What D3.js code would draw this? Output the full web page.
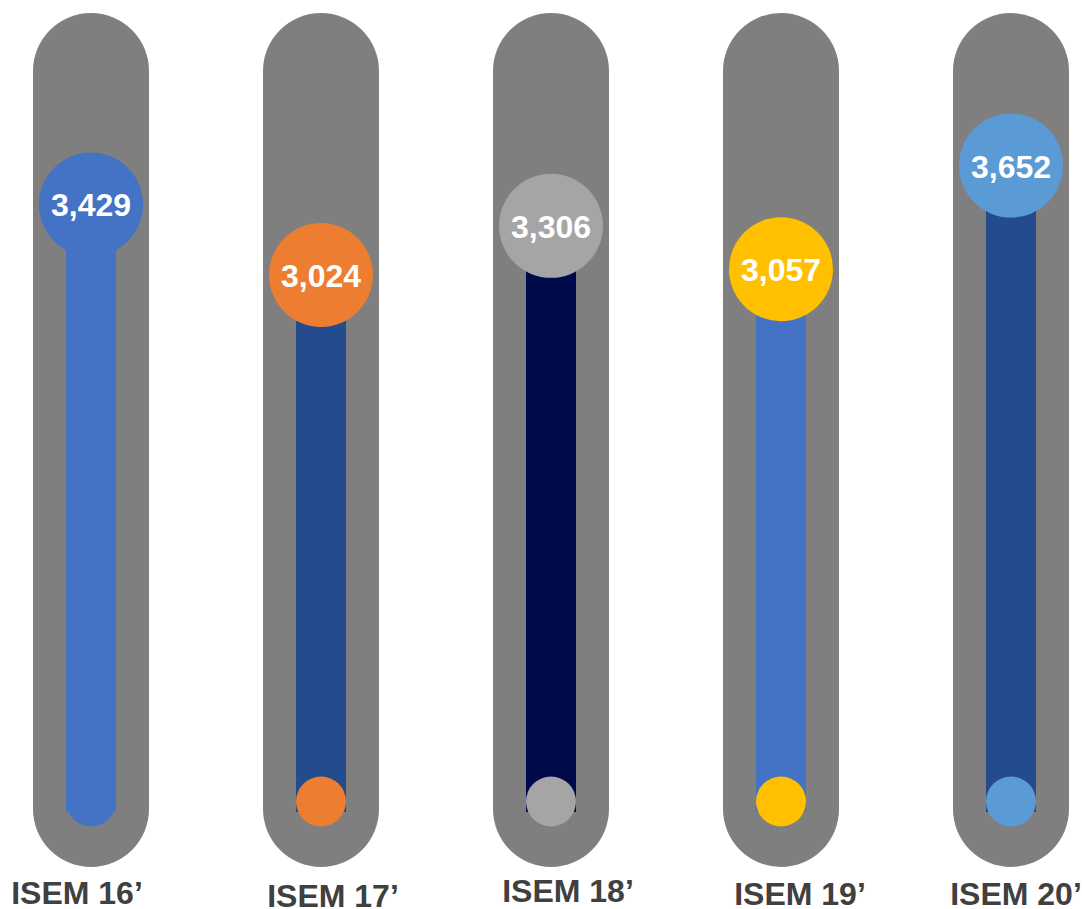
<!DOCTYPE html>
<html>
<head>
<meta charset="utf-8">
<script src="https://cdn.jsdelivr.net/npm/d3@7"></script>
<style>
  html, body { margin: 0; padding: 0; background: #ffffff; }
  svg { display: block; }
</style>
</head>
<body>
<svg id="chart" width="1082" height="909"></svg>
<script>
// ---- data ----
const categories = ["ISEM 16’", "ISEM 17’", "ISEM 18’", "ISEM 19’", "ISEM 20’"];
const values = [3429, 3024, 3306, 3057, 3652];
const valueLabels = ["3,429", "3,024", "3,306", "3,057", "3,652"];

// ---- styles ----
const barColors = ["#4472C4", "#234B8E", "#000A4B", "#4472C4", "#234B8E"];
const dotColors = ["#4472C4", "#ED7D31", "#A5A5A5", "#FFC000", "#5B9BD5"];
const labelDx = [-14, 12, 17, 19, 5];
const labelY = [904, 907, 902, 905, 905];

const svg = d3.select("#chart");

const x = d3.scalePoint().domain(categories).range([91, 1011]);
const y = d3.scaleLinear().domain([0, 4000]).range([801.5, 105]);

const tubeW = 116, tubeTop = 13, tubeBottom = 867;
const barW = 50, barBottom = 812;
const bigR = 52, smallR = 25;

const rows = categories.map((c, i) => ({ c, v: values[i], lab: valueLabels[i], i }));

const g = svg.append("g").selectAll("g").data(rows).join("g");

// background tubes
g.append("rect")
  .attr("x", d => x(d.c) - tubeW / 2)
  .attr("y", tubeTop)
  .attr("width", tubeW)
  .attr("height", tubeBottom - tubeTop)
  .attr("rx", tubeW / 2)
  .attr("fill", "#7F7F7F");

// value bars
g.append("rect")
  .attr("x", d => x(d.c) - barW / 2)
  .attr("y", d => y(d.v))
  .attr("width", barW)
  .attr("height", d => barBottom - y(d.v))
  .attr("fill", d => barColors[d.i]);

// bottom bulbs
g.append("circle")
  .attr("cx", d => x(d.c))
  .attr("cy", y(0))
  .attr("r", smallR)
  .attr("fill", d => dotColors[d.i]);

// value circles
g.append("circle")
  .attr("cx", d => x(d.c))
  .attr("cy", d => y(d.v))
  .attr("r", bigR)
  .attr("fill", d => dotColors[d.i]);

// value labels
g.append("text")
  .attr("x", d => x(d.c))
  .attr("y", d => y(d.v) + 12)
  .attr("text-anchor", "middle")
  .attr("font-family", "'Liberation Sans', Arial, sans-serif")
  .attr("font-weight", "bold")
  .attr("font-size", 32)
  .attr("fill", "#ffffff")
  .text(d => d.lab);

// category labels
g.append("text")
  .attr("x", d => x(d.c) + labelDx[d.i])
  .attr("y", d => labelY[d.i])
  .attr("text-anchor", "middle")
  .attr("font-family", "'Liberation Sans', Arial, sans-serif")
  .attr("font-weight", "bold")
  .attr("font-size", 32)
  .attr("fill", "#404040")
  .text(d => d.c);
</script>
</body>
</html>
